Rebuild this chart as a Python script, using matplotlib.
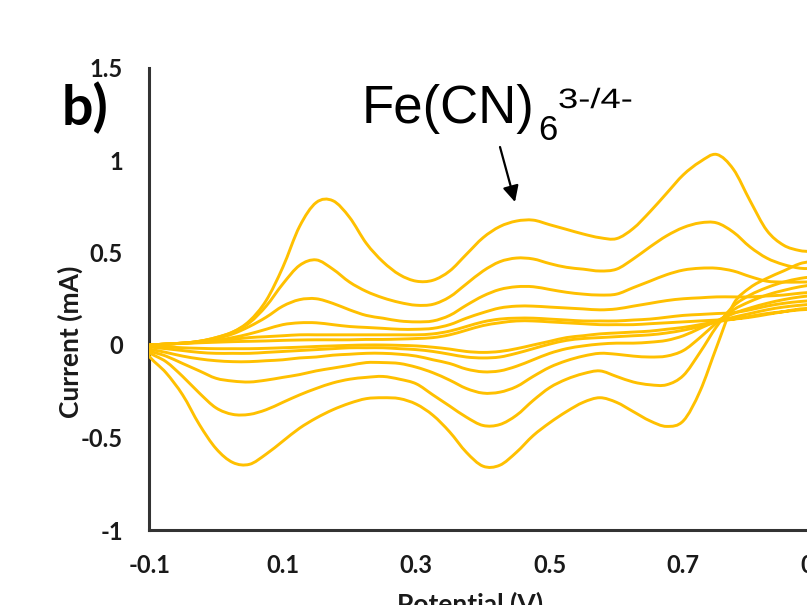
import matplotlib.pyplot as plt
from matplotlib.path import Path
from matplotlib.patches import PathPatch
from matplotlib.textpath import TextPath
from matplotlib.font_manager import FontProperties
from matplotlib.transforms import Affine2D

# potential grid (V) the curves were read at
potential = [-0.1, -0.075, -0.05, -0.025, 0.0, 0.025, 0.05, 0.075, 0.1, 0.125,
             0.15, 0.175, 0.2, 0.225, 0.25, 0.275, 0.3, 0.325, 0.35, 0.375,
             0.4, 0.425, 0.45, 0.475, 0.5, 0.525, 0.55, 0.575, 0.6, 0.625,
             0.65, 0.675, 0.7, 0.725, 0.75, 0.775, 0.8, 0.825, 0.85, 0.875, 0.9]

# anodic (forward) branches, mA, largest scan rate first
anodic1 = [0.0, 0.005, 0.01, 0.02, 0.04, 0.07, 0.13, 0.24, 0.42, 0.64,
           0.77, 0.78, 0.69, 0.55, 0.45, 0.38, 0.345, 0.35, 0.40, 0.49,
           0.58, 0.64, 0.67, 0.675, 0.65, 0.625, 0.60, 0.58, 0.575, 0.63,
           0.72, 0.82, 0.92, 0.99, 1.03, 0.95, 0.78, 0.62, 0.54, 0.51, 0.50]
anodic2 = [0.0, 0.005, 0.01, 0.02, 0.04, 0.07, 0.12, 0.21, 0.33, 0.43,
           0.46, 0.41, 0.34, 0.29, 0.255, 0.23, 0.215, 0.22, 0.26, 0.33,
           0.40, 0.45, 0.47, 0.465, 0.44, 0.42, 0.41, 0.40, 0.41, 0.465,
           0.53, 0.59, 0.635, 0.66, 0.66, 0.61, 0.53, 0.47, 0.435, 0.415, 0.41]
anodic3 = [0.0, 0.005, 0.01, 0.02, 0.035, 0.06, 0.10, 0.15, 0.21, 0.245,
           0.25, 0.225, 0.19, 0.16, 0.145, 0.13, 0.125, 0.13, 0.16, 0.215,
           0.265, 0.30, 0.315, 0.315, 0.30, 0.285, 0.275, 0.27, 0.275, 0.31,
           0.345, 0.38, 0.405, 0.415, 0.415, 0.40, 0.37, 0.345, 0.34, 0.34, 0.34]
anodic4 = [0.0, 0.005, 0.01, 0.015, 0.025, 0.04, 0.06, 0.085, 0.11, 0.12,
           0.12, 0.11, 0.10, 0.095, 0.09, 0.085, 0.085, 0.09, 0.11, 0.145,
           0.175, 0.20, 0.21, 0.21, 0.205, 0.20, 0.195, 0.19, 0.195, 0.21,
           0.225, 0.24, 0.25, 0.255, 0.26, 0.26, 0.26, 0.265, 0.27, 0.28, 0.285]
anodic5 = [0.0, 0.005, 0.01, 0.015, 0.02, 0.03, 0.04, 0.045, 0.05, 0.055,
           0.055, 0.055, 0.055, 0.055, 0.055, 0.055, 0.055, 0.06, 0.075, 0.10,
           0.125, 0.14, 0.145, 0.145, 0.14, 0.135, 0.13, 0.13, 0.13, 0.135,
           0.14, 0.15, 0.16, 0.165, 0.17, 0.175, 0.19, 0.21, 0.225, 0.235, 0.24]
anodic6 = [0.0, 0.005, 0.008, 0.012, 0.015, 0.018, 0.02, 0.022, 0.025, 0.027,
           0.028, 0.028, 0.028, 0.03, 0.03, 0.032, 0.035, 0.04, 0.055, 0.08,
           0.105, 0.12, 0.13, 0.13, 0.125, 0.12, 0.115, 0.11, 0.11, 0.11,
           0.115, 0.12, 0.125, 0.13, 0.135, 0.14, 0.15, 0.165, 0.18, 0.195, 0.2]

# cathodic (reverse) branches, mA, same potential grid
cathodic1 = [-0.06, -0.15, -0.27, -0.43, -0.56, -0.635, -0.645, -0.59, -0.52, -0.45,
             -0.395, -0.35, -0.315, -0.29, -0.285, -0.29, -0.32, -0.38, -0.47, -0.58,
             -0.655, -0.65, -0.58, -0.49, -0.42, -0.36, -0.31, -0.285, -0.31, -0.36,
             -0.41, -0.44, -0.41, -0.25, -0.01, 0.22, 0.31, 0.36, 0.40, 0.44, 0.46]
cathodic2 = [-0.04, -0.09, -0.17, -0.26, -0.34, -0.375, -0.375, -0.35, -0.31, -0.27,
             -0.235, -0.205, -0.185, -0.175, -0.17, -0.185, -0.21, -0.27, -0.33, -0.39,
             -0.435, -0.43, -0.38, -0.30, -0.23, -0.185, -0.155, -0.14, -0.17, -0.20,
             -0.215, -0.215, -0.165, -0.04, 0.10, 0.21, 0.27, 0.31, 0.34, 0.36, 0.375]
cathodic3 = [-0.03, -0.06, -0.10, -0.14, -0.18, -0.195, -0.20, -0.19, -0.175, -0.16,
             -0.14, -0.125, -0.11, -0.095, -0.095, -0.10, -0.12, -0.15, -0.19, -0.235,
             -0.26, -0.255, -0.225, -0.17, -0.12, -0.085, -0.06, -0.045, -0.05, -0.06,
             -0.065, -0.06, -0.03, 0.04, 0.12, 0.19, 0.235, 0.27, 0.295, 0.315, 0.33]
cathodic4 = [-0.02, -0.04, -0.06, -0.075, -0.085, -0.09, -0.09, -0.085, -0.08, -0.07,
             -0.065, -0.055, -0.05, -0.045, -0.045, -0.05, -0.06, -0.08, -0.10, -0.13,
             -0.145, -0.14, -0.115, -0.08, -0.045, -0.02, -0.005, 0.005, 0.01, 0.01,
             0.015, 0.025, 0.05, 0.09, 0.13, 0.17, 0.20, 0.225, 0.245, 0.26, 0.27]
cathodic5 = [-0.01, -0.02, -0.03, -0.04, -0.045, -0.045, -0.045, -0.04, -0.035, -0.03,
             -0.025, -0.02, -0.015, -0.015, -0.015, -0.02, -0.025, -0.035, -0.05, -0.065,
             -0.07, -0.065, -0.045, -0.02, 0.005, 0.025, 0.035, 0.04, 0.045, 0.05,
             0.055, 0.065, 0.08, 0.10, 0.125, 0.15, 0.17, 0.19, 0.205, 0.215, 0.225]
cathodic6 = [-0.005, -0.01, -0.015, -0.018, -0.02, -0.02, -0.02, -0.018, -0.015, -0.012,
             -0.008, -0.005, -0.002, 0.0, 0.0, -0.002, -0.005, -0.012, -0.022, -0.035,
             -0.04, -0.035, -0.02, 0.0, 0.02, 0.04, 0.05, 0.06, 0.065, 0.07,
             0.075, 0.085, 0.095, 0.11, 0.125, 0.14, 0.155, 0.17, 0.18, 0.19, 0.195]

anodic = [anodic1, anodic2, anodic3, anodic4, anodic5, anodic6]
cathodic = [cathodic1, cathodic2, cathodic3, cathodic4, cathodic5, cathodic6]

xticks = [-0.1, 0.1, 0.3, 0.5, 0.7, 0.9]
xlabels = ["-0.1", "0.1", "0.3", "0.5", "0.7", "0.9"]
yticks = [-1, -0.5, 0, 0.5, 1, 1.5]
ylabels = ["-1", "-0.5", "0", "0.5", "1", "1.5"]


def smooth_line(xs, ys):
    # Excel-style smoothed line: cubic bezier pieces passing through every point
    pts = list(zip(xs, ys))
    n = len(pts)
    verts = [pts[0]]
    codes = [Path.MOVETO]
    for i in range(n - 1):
        p0 = pts[i - 1] if i > 0 else pts[i]
        p1 = pts[i]
        p2 = pts[i + 1]
        p3 = pts[i + 2] if i + 2 < n else pts[i + 1]
        c1 = (p1[0] + (p2[0] - p0[0]) / 6, p1[1] + (p2[1] - p0[1]) / 6)
        c2 = (p2[0] - (p3[0] - p1[0]) / 6, p2[1] - (p3[1] - p1[1]) / 6)
        verts += [c1, c2, p2]
        codes += [Path.CURVE4] * 3
    return Path(verts, codes)


W, H = 807, 605
fig = plt.figure(figsize=(W / 100, H / 100), dpi=100)
# axes runs off the right edge, like the cropped original
ax = fig.add_axes([149.3 / W, (H - 530) / H, 667.5 / W, 462.5 / H])

for a, c in zip(anodic, cathodic):
    xs = potential + potential[::-1] + [potential[0]]
    ys = a + c[::-1] + [a[0]]
    ax.add_patch(PathPatch(smooth_line(xs, ys), fill=False, edgecolor='#FFC000',
                           lw=2.1, joinstyle='round'))

ax.set_xlim(-0.1, 0.9)
ax.set_ylim(-1, 1.5)
for s in ['top', 'right']:
    ax.spines[s].set_visible(False)
for s in ['left', 'bottom']:
    ax.spines[s].set_linewidth(2.2)
    ax.spines[s].set_color('#333333')
    ax.spines[s].set_zorder(0.5)
ax.set_xticks(xticks)
ax.set_xticklabels(xlabels)
ax.set_yticks(yticks)
ax.set_yticklabels(ylabels)
ax.tick_params(length=0, labelsize=17)
ax.tick_params(axis='y', pad=19)
ax.tick_params(axis='x', pad=17)
for lab in ax.get_xticklabels() + ax.get_yticklabels():
    lab.set_family('Lato')
    lab.set_fontweight('bold')
    lab.set_color('#1a1a1a')

fig.text(70 / W, 1 - 342 / H, "Current (mA)", rotation=90, ha='center', va='center',
         family='Lato', fontweight='bold', fontsize=19, color='#1a1a1a')
fig.text(470 / W, 1 - 592 / H, "Potential (V)", ha='center', va='top',
         family='Lato', fontweight='bold', fontsize=19, color='#1a1a1a')

fig.text(62 / W, 1 - 125 / H, "b)", ha='left', va='baseline',
         family='Lato', fontweight='bold', fontsize=40)

fig.text(362 / W, 1 - 123 / H, "Fe(CN)", ha='left', va='baseline',
         family='Liberation Sans', fontsize=38)
fig.text(538 / W, 1 - 140 / H, "6", ha='left', va='baseline',
         family='Liberation Sans', fontsize=25)
# the charge label is drawn a little wide, as in the original
sup = TextPath((0, 0), "3-/4-", size=28, prop=FontProperties(family='Liberation Sans'))
fig.add_artist(PathPatch(sup, transform=Affine2D().scale(1.3, 1.0).translate(558, H - 108),
                         facecolor='black', edgecolor='none'))

ax.annotate('', xy=(515, H - 202), xytext=(500, H - 147),
            xycoords='figure pixels', textcoords='figure pixels',
            arrowprops=dict(arrowstyle='-|>', color='black', lw=1.6,
                            mutation_scale=24, shrinkA=0, shrinkB=0))

plt.savefig("out.png", dpi=100)
